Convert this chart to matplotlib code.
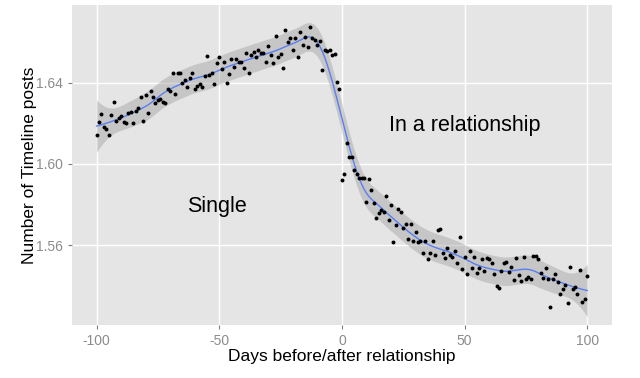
import numpy as np
import matplotlib
matplotlib.use("Agg")
import matplotlib.pyplot as plt

plt.rcParams['font.family'] = ['Liberation Sans', 'DejaVu Sans']
plt.rcParams['axes.unicode_minus'] = False

days = np.arange(-100, 101)

posts_before = [
    1.6143, 1.6209, 1.6247, 1.6184, 1.6171, 1.6143, 1.6242, 1.6308, 1.6214, 1.6226,
    1.6239, 1.6209, 1.6201, 1.6250, 1.6259, 1.6201, 1.6262, 1.6275, 1.6329, 1.6212,
    1.6341, 1.6253, 1.6362, 1.6329, 1.6300, 1.6316, 1.6320, 1.6308, 1.6300, 1.6369,
    1.6360, 1.6448, 1.6344, 1.6451, 1.6448, 1.6398, 1.6415, 1.6379, 1.6423, 1.6451,
    1.6369, 1.6385, 1.6395, 1.6379, 1.6432, 1.6535, 1.6440, 1.6448, 1.6395, 1.6497,
    1.6530, 1.6469, 1.6502, 1.6401, 1.6444, 1.6518, 1.6477, 1.6518, 1.6502, 1.6505,
    1.6472, 1.6549, 1.6448, 1.6538, 1.6555, 1.6526, 1.6563, 1.6547, 1.6547, 1.6505,
    1.6580, 1.6538, 1.6500, 1.6630, 1.6530, 1.6542, 1.6472, 1.6662, 1.6601, 1.6624,
    1.6563, 1.6620, 1.6530, 1.6650, 1.6588, 1.6629, 1.6575, 1.6674, 1.6621, 1.6612,
    1.6585, 1.6607, 1.6464, 1.6563, 1.6558, 1.6563, 1.6538, 1.6545, 1.6406, 1.6369,
]

posts_after = [
    1.5921, 1.5949, 1.6102, 1.6036, 1.6033, 1.5970, 1.5951, 1.5929, 1.5929, 1.5929,
    1.5814, 1.5926, 1.5872, 1.5809, 1.5732, 1.5757, 1.5773, 1.5765, 1.5844, 1.5724,
    1.5798, 1.5616, 1.5699, 1.5777, 1.5765, 1.5682, 1.5704, 1.5628, 1.5702, 1.5620,
    1.5666, 1.5615, 1.5621, 1.5562, 1.5621, 1.5529, 1.5562, 1.5621, 1.5551, 1.5673,
    1.5681, 1.5559, 1.5534, 1.5584, 1.5551, 1.5542, 1.5572, 1.5513, 1.5641, 1.5480,
    1.5539, 1.5457, 1.5572, 1.5485, 1.5539, 1.5460, 1.5485, 1.5529, 1.5473, 1.5534,
    1.5529, 1.5513, 1.5457, 1.5398, 1.5387, 1.5473, 1.5510, 1.5515, 1.5468, 1.5493,
    1.5427, 1.5534, 1.5452, 1.5424, 1.5542, 1.5431, 1.5441, 1.5431, 1.5546, 1.5546,
    1.5529, 1.5463, 1.5435, 1.5485, 1.5431, 1.5296, 1.5431, 1.5457, 1.5419, 1.5358,
    1.5383, 1.5403, 1.5316, 1.5491, 1.5383, 1.5393, 1.5356, 1.5477, 1.5321, 1.5333,
    1.5447,
]

posts = np.array(posts_before + posts_after)


def loess(x, y, span=0.2):
    # local quadratic fit with tricube weights, like R's loess
    n = len(x)
    k = int(np.ceil(span * n))
    fit = np.zeros(n)
    lev = np.zeros(n)
    X = np.column_stack([np.ones(n), x, x ** 2])
    for i in range(n):
        d = np.abs(x - x[i])
        h = np.sort(d)[k - 1]
        w = np.clip(1 - (d / h) ** 3, 0, None) ** 3
        W = X * w[:, None]
        A = np.linalg.pinv(X.T @ W) @ W.T
        row = X[i] @ A
        fit[i] = row @ y
        lev[i] = np.sum(row ** 2)
    sigma = np.sqrt(np.sum((y - fit) ** 2) / (n - 3 * n / k))
    return fit, sigma * np.sqrt(lev)


smooth, se = loess(days.astype(float), posts)
band = 4.5 * se

fig, ax = plt.subplots(figsize=(6.4, 3.78), dpi=100)
fig.subplots_adjust(left=0.1125, right=0.956, top=0.987, bottom=0.14)
ax.set_facecolor('#E5E5E5')
for s in ax.spines.values():
    s.set_visible(False)
ax.grid(True, color='white', linewidth=1.0)
ax.set_axisbelow(True)

ax.fill_between(days, smooth - band, smooth + band, color='#999999', alpha=0.4, linewidth=0)
ax.plot(days, smooth, color='#3366FF', linewidth=1.0, alpha=0.75)
ax.scatter(days, posts, s=8, color='black', zorder=3, linewidths=0)

ax.text(-51, 1.5788, 'Single', fontsize=15.5, ha='center', va='center')
ax.text(50, 1.6188, 'In a relationship', fontsize=15.5, ha='center', va='center')

ax.set_xlim(-110, 110)
ax.set_ylim(1.5205, 1.6785)
ax.set_xticks([-100, -50, 0, 50, 100])
ax.set_yticks([1.56, 1.60, 1.64])
ax.set_yticklabels(['1.56', '1.60', '1.64'])
ax.tick_params(colors='#7F7F7F', labelcolor='#8C8C8C', labelsize=10, length=3)
ax.set_xlabel('Days before/after relationship', fontsize=12.5, labelpad=1)
ax.set_ylabel('Number of Timeline posts', fontsize=12.5)
ax.yaxis.set_label_coords(-0.064, 0.5)

fig.savefig('out.png', dpi=100)
